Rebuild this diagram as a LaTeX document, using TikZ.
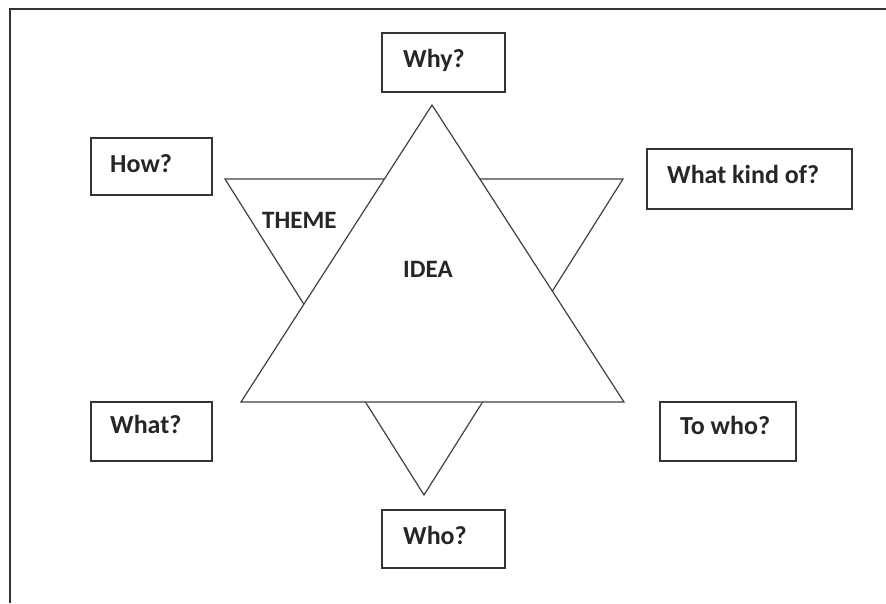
\documentclass[tikz,border=0pt]{standalone}
\usepackage{fontspec}
\setmainfont{Carlito}
\begin{document}
\begin{tikzpicture}[x=1pt,y=-1pt,
  qbox/.style={draw=black!80,line width=1.4pt,fill=white},
  qtext/.style={anchor=base west,inner sep=0pt,font=\bfseries\fontsize{26}{30}\selectfont,text=black!85},
  intext/.style={anchor=base west,inner sep=0pt,font=\bfseries\fontsize{25}{29}\selectfont,text=black!85},
  tri/.style={draw=black!75,line width=1.2pt,line join=miter}]
\useasboundingbox (0,0) rectangle (886,603);
\fill[white] (0,0) rectangle (886,603);
% frame
\draw[black!80,line width=1.2pt] (10,603) -- (10,9) -- (886,9);
% hexagram
\coordinate (d1) at (225,179);
\coordinate (d2) at (623,179);
\coordinate (d3) at (424,495);
\coordinate (u1) at (432,105);
\coordinate (u2) at (241,402);
\coordinate (u3) at (624,402);
\draw[tri,fill=white] (d1) -- (d2) -- (d3) -- cycle;
\draw[tri,fill=white] (u1) -- (u2) -- (u3) -- cycle;
% boxes
\draw[qbox] (91,138) rectangle (212,195);
\node[qtext] (how) at (110,172) {How?};
\draw[qbox] (382,33) rectangle (505,92);
\node[qtext] (why) at (403,67) {Why?};
\draw[qbox] (647,149) rectangle (852,209);
\node[qtext] (kind) at (667,183) {What kind of?};
\draw[qbox] (91,402) rectangle (212,461);
\node[qtext] (what) at (110,433) {What?};
\draw[qbox] (660,402) rectangle (796,461);
\node[qtext] (towho) at (680,434) {To who?};
\draw[qbox] (382,510) rectangle (505,568);
\node[qtext] (who) at (403,544) {Who?};
% inner labels
\node[intext] (theme) at (262,228) {THEME};
\node[intext] (idea) at (403,277) {IDEA};
\end{tikzpicture}
\end{document}
